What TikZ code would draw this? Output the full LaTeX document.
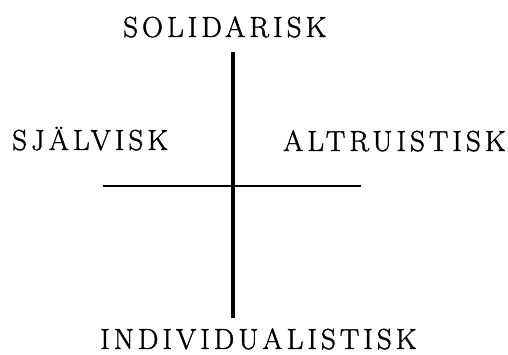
\documentclass[tikz,border=0pt]{standalone}
\usepackage{fontspec}
\newfontfamily\lblfont{Latin Modern Roman}[LetterSpace=14,FakeBold=1.5]
\begin{document}
\begin{tikzpicture}[x=1pt,y=1pt,
  lbl/.style={inner sep=0pt, anchor=base west, font=\lblfont\fontsize{29}{31}\selectfont},
  axis/.style={line width=3.2pt}]
\useasboundingbox (0,0) rectangle (508,355);
\node[lbl] (sol) at (123,318) {SOLIDARISK};
\node[lbl] (sja) at (12,205) {SJÄLVISK};
\node[lbl] (alt) at (283,204) {ALTRUISTISK};
\node[lbl] (ind) at (100,6) {INDIVIDUALISTISK};
\coordinate (vt) at (233,303);
\coordinate (vb) at (233,37);
\coordinate (hl) at (103,169);
\coordinate (hr) at (361,169);
\draw[axis] (vt) -- (vb);
\draw[axis, line width=2.6pt] (hl) -- (hr);
\end{tikzpicture}
\end{document}
